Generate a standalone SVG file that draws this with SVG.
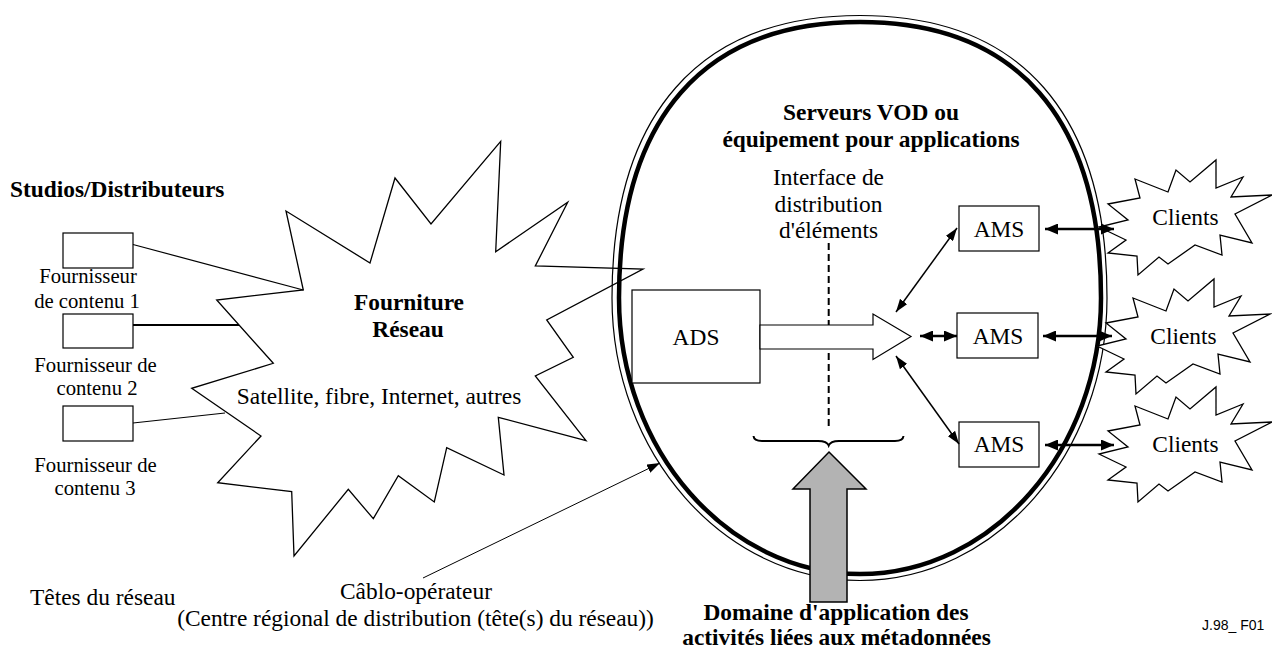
<svg xmlns="http://www.w3.org/2000/svg" width="1272" height="650" viewBox="0 0 1272 650">
<style>
text{font-family:"Liberation Serif","Times New Roman",serif;font-size:23.4px;fill:#000}
.b{font-weight:bold}
.m{text-anchor:middle}
.s{font-size:20.7px}
.ln{stroke:#000;fill:none}
.box{fill:#fff;stroke:#000;stroke-width:1.2}
.cloud{fill:#fff;stroke:#000;stroke-width:1.3;stroke-linejoin:miter;stroke-miterlimit:20}
.sans{font-family:"Liberation Sans",Arial,sans-serif;font-size:14px}
</style>
<defs>
<marker id="ah" markerUnits="userSpaceOnUse" markerWidth="13" markerHeight="9" refX="13" refY="4.5" orient="auto-start-reverse" viewBox="0 0 13 9"><path d="M0,0 L13,4.5 L0,9 z" fill="#000"/></marker>
<marker id="ahB" markerUnits="userSpaceOnUse" markerWidth="13" markerHeight="11" refX="13" refY="5.5" orient="auto-start-reverse" viewBox="0 0 13 11"><path d="M0,0 L13,5.5 L0,11 z" fill="#000"/></marker>
<polygon id="star" points="-50,-38 -17,-25 -9,-47 5,-35 31,-57 31,-29 58,-40 46,-20 87,-22 50,-3 67,26 35,18 37,38 10,28 -17,47 -26,40 -47,58 -48,39 -77,36 -59,23 -86,10 -57,3 -77,-13 -45,-19"/>
</defs>
<rect width="1272" height="650" fill="#fff"/>

<g id="studios">
<text class="b" x="10" y="197">Studios/Distributeurs</text>
</g>
<g id="provider1">
<rect class="box" x="63" y="233" width="70" height="35"/>
<text class="s m" x="88" y="283">Fournisseur</text>
<text class="s m" x="87" y="307.5">de contenu 1</text>
</g>
<g id="provider2">
<rect class="box" x="63" y="314" width="70" height="34"/>
<text class="s m" x="95.5" y="372">Fournisseur de</text>
<text class="s m" x="97" y="395">contenu 2</text>
</g>
<g id="provider3">
<rect class="box" x="63" y="406" width="70" height="35"/>
<text class="s m" x="95.5" y="472">Fournisseur de</text>
<text class="s m" x="95" y="495">contenu 3</text>
</g>

<g id="network-cloud">
<polygon class="cloud" points="303.3,290 286,211 370,263 395,178 431,224 500.7,141.3 495.7,251.7 567.7,202.3 535.3,266 643,269 546.7,320 573.3,357.3 535.3,376 586,440.7 498.3,417.3 504,475 446.7,447.7 434.3,502 398.3,475.7 373.3,518.7 348.3,489.3 294,556 291.7,491.7 217.7,482.7 261,436 191.7,388.3 273.3,363.3 216.7,300"/>
<text class="b m" x="409" y="310">Fourniture</text>
<text class="b m" x="408" y="337">Réseau</text>
<text class="m" x="379" y="404">Satellite, fibre, Internet, autres</text>
</g>

<g id="vod-domain">
<path class="ln" stroke-width="1.2" d="M612,298 C612,114 699,15.5 860,15.5 C1021,15.5 1107,114 1107,298 C1107,453.5 996,580.5 860,580.5 C724,580.5 612,453.5 612,298 Z"/>
<path class="ln" stroke-width="4.5" d="M619,298 C619,118.6 703.3,22 860,22 C1016.7,22 1101,118.6 1101,298 C1101,449.8 992.6,574 860,574 C727.4,574 619,449.8 619,298 Z"/>
<text class="b m" x="871" y="120">Serveurs VOD ou</text>
<text class="b m" x="871" y="147">équipement pour applications</text>
</g>

<g id="interface">
<text class="m" x="828.5" y="185">Interface de</text>
<text class="m" x="828.5" y="211.5">distribution</text>
<text class="m" x="828.5" y="238">d'éléments</text>
<line class="ln" x1="828.7" y1="243" x2="828.7" y2="428" stroke-width="2" stroke-dasharray="7,4"/>
<path class="ln" stroke-width="2" d="M753.5,436 Q754,441 762,441 L818,441 Q827,441 828.7,445.5 Q830.5,441 839,441 L895,441 Q903,441 903.5,436"/>
</g>

<g id="ads">
<rect class="box" x="632" y="290" width="128" height="93"/>
<text class="m" x="696" y="345">ADS</text>
<polygon fill="#fff" stroke="#000" stroke-width="1.2" points="760,325 873,325 873,314 911,336.5 873,359.5 873,349 760,349"/>
</g>

<g id="ams1">
<rect class="box" x="959" y="206" width="80" height="45"/>
<text class="m" x="999" y="237">AMS</text>
</g>
<g id="ams2">
<rect class="box" x="957" y="313" width="81" height="45"/>
<text class="m" x="998" y="344">AMS</text>
</g>
<g id="ams3">
<rect class="box" x="959" y="422" width="80" height="45"/>
<text class="m" x="999" y="452">AMS</text>
</g>

<g id="clients1">
<use href="#star" class="cloud" transform="translate(1185,217)"/>
<text class="m" x="1185.5" y="225">Clients</text>
</g>
<g id="clients2">
<use href="#star" class="cloud" transform="translate(1183,336)"/>
<text class="m" x="1183.5" y="343.5">Clients</text>
</g>
<g id="clients3">
<use href="#star" class="cloud" transform="translate(1185,444)"/>
<text class="m" x="1185.5" y="452">Clients</text>
</g>

<g id="connectors">
<line class="ln" x1="133" y1="244.5" x2="303.3" y2="290" stroke-width="1.2"/>
<line class="ln" x1="133" y1="325" x2="239" y2="325" stroke-width="2"/>
<line class="ln" x1="133" y1="423" x2="225" y2="413" stroke-width="1.2"/>
<line class="ln" x1="423" y1="578" x2="660" y2="463" stroke-width="1" marker-end="url(#ah)"/>
<line class="ln" x1="957" y1="228" x2="896" y2="312" stroke-width="1.5" marker-start="url(#ah)" marker-end="url(#ah)"/>
<line class="ln" x1="920" y1="336" x2="957" y2="336" stroke-width="2.5" marker-start="url(#ahB)" marker-end="url(#ahB)"/>
<line class="ln" x1="896" y1="356" x2="959" y2="444" stroke-width="1.5" marker-start="url(#ah)" marker-end="url(#ah)"/>
<line class="ln" x1="1045" y1="229" x2="1114" y2="229" stroke-width="2.5" marker-start="url(#ahB)" marker-end="url(#ahB)"/>
<line class="ln" x1="1043" y1="336" x2="1112" y2="336" stroke-width="2.5" marker-start="url(#ahB)" marker-end="url(#ahB)"/>
<line class="ln" x1="1045" y1="445" x2="1114" y2="445" stroke-width="2.5" marker-start="url(#ahB)" marker-end="url(#ahB)"/>
</g>

<g id="metadata-arrow">
<polygon fill="#b3b3b3" stroke="#000" stroke-width="1.5" points="829,452 866,489 847,489 847,602 810,602 810,489 793,489"/>
</g>

<g id="labels">
<text x="30" y="605">Têtes du réseau</text>
<text class="m" x="416" y="599">Câblo-opérateur</text>
<text class="m" x="415.5" y="626">(Centre régional de distribution (tête(s) du réseau))</text>
<text class="b m" x="836" y="620">Domaine d'application des</text>
<text class="b m" x="836.5" y="645">activités liées aux métadonnées</text>
<text class="sans" x="1202" y="630">J.98_ F01</text>
</g>
</svg>
